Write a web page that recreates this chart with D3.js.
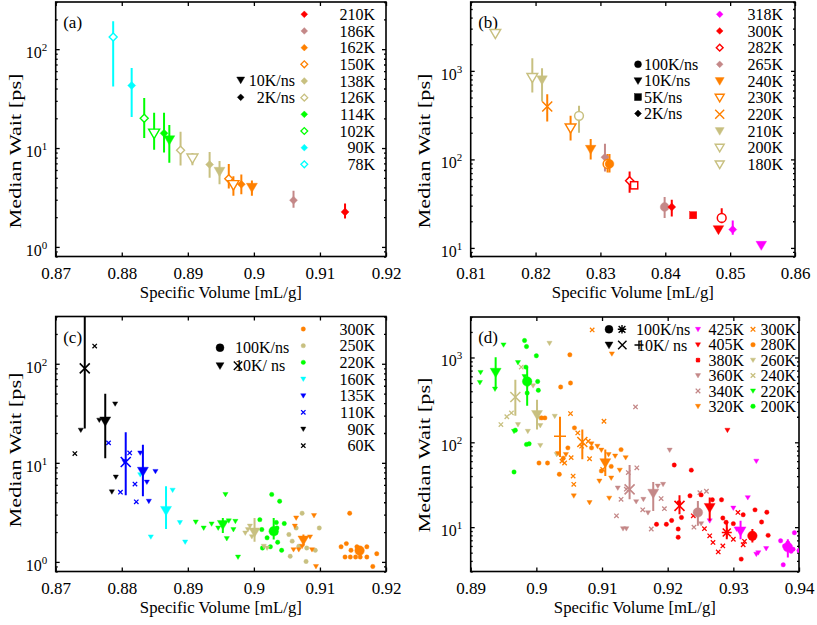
<!DOCTYPE html>
<html><head><meta charset="utf-8">
<script src="https://cdn.jsdelivr.net/npm/d3@7"></script>
<style>
body{margin:0;background:#fff}
svg{display:block}
text{font-family:"Liberation Serif","Times New Roman",serif;fill:#000}
</style>
</head><body>
<svg id="chart" width="817" height="625"></svg>
<script>
// ================= DATA =================
// Panel (a)
const aTemps = ["210K","186K","162K","150K","138K","126K","114K","102K","90K","78K"];
const aRates = ["10K/ns","2K/ns"];
const aXTicks = [0.87,0.88,0.89,0.90,0.91,0.92];
const aXTickLabels = ["0.87","0.88","0.89","0.9","0.91","0.92"];
const aYDecades = [0,1,2];
// [temperature, symbol, x, median, low, high]
const aPoints = [
  ["78K","d",0.8787,133,42,192],
  ["90K","d",0.8815,42.9,20.6,64.4],
  ["102K","d",0.8834,20,12.6,32],
  ["102K","t",0.8849,14.1,9.6,22.8],
  ["114K","d",0.8864,14.1,9.0,22.8],
  ["114K","t",0.8872,12.1,7.1,17.1],
  ["126K","d",0.8889,9.5,6.65,14.6],
  ["126K","t",0.8907,7.9,6.7,8.9],
  ["138K","d",0.8933,6.8,5.0,9.1],
  ["138K","t",0.8948,5.8,4.3,7.4],
  ["150K","d",0.8962,4.9,3.9,6.9],
  ["150K","t",0.8969,4.25,3.3,5.2],
  ["162K","d",0.8981,4.3,3.4,5.4],
  ["162K","t",0.8997,4.0,3.3,4.7],
  ["186K","d",0.9060,2.97,2.49,3.7],
  ["210K","d",0.9138,2.26,1.94,2.75]
];

// Panel (b)
const bTemps = ["318K","300K","282K","265K","240K","230K","220K","210K","200K","180K"];
const bRates = ["100K/ns","10K/ns","5K/ns","2K/ns"];
const bXTicks = [0.81,0.82,0.83,0.84,0.85,0.86];
const bXTickLabels = ["0.81","0.82","0.83","0.84","0.85","0.86"];
const bYDecades = [1,2,3];
const bPoints = [
  ["180K","t",0.8138,2640,null,null],
  ["200K","t",0.8195,840,569,1390],
  ["210K","t",0.8210,792,451,1072],
  ["220K","x",0.8218,396,268,546],
  ["230K","t",0.8254,226,164,311],
  ["200K","c",0.8267,311,200,403],
  ["240K","t",0.8285,130,100,170],
  ["265K","d",0.8307,106,73,150],
  ["230K","c",0.8311,89,71,115],
  ["240K","c",0.8314,89,71,115],
  ["282K","d",0.8345,57.5,42,73],
  ["282K","s",0.8352,51,null,null],
  ["265K","c",0.8399,29,21.8,37.6],
  ["300K","d",0.8410,29,22.7,35],
  ["300K","s",0.8443,23.4,null,null],
  ["282K","c",0.8487,21.8,19,28],
  ["300K","t",0.8482,16.1,null,null],
  ["318K","d",0.8504,16.1,14.1,20.4],
  ["318K","t",0.8548,10.7,null,null]
];

// Panel (c)
const cTemps = ["300K","250K","220K","160K","135K","110K","90K","60K"];
const cRates = ["100K/ns","10K/ns"];
const cXTicks = [0.87,0.88,0.89,0.90,0.91,0.92];
const cXTickLabels = ["0.87","0.88","0.89","0.9","0.91","0.92"];
const cYDecades = [0,1,2];
const cMedians = [
  ["60K","x",0.8744,89.8,22.2,320],
  ["90K","t",0.8775,26.4,11.1,49.8],
  ["110K","x",0.8806,10.2,4.7,20.4],
  ["135K","t",0.8832,8.2,4.6,15.2],
  ["160K","t",0.8867,3.3,2.15,5.8],
  ["220K","t",0.8953,2.38,1.96,2.78],
  ["250K","t",0.9001,2.0,1.6,2.78],
  ["220K","c",0.9030,2.04,1.68,2.78],
  ["300K","t",0.9075,1.66,1.44,1.89],
  ["300K","c",0.9160,1.3,1.2,1.44]
];
const cRuns = [
  ["60K","x",0.8759,151],["60K","x",0.8729,12.4],
  ["90K","t",0.8738,21.4],["90K","t",0.8766,27],["90K","t",0.8790,39.4],["90K","t",0.8791,7.2],["90K","t",0.8785,5.1],
  ["110K","x",0.8780,15.9],["110K","x",0.8812,12.6],["110K","x",0.8798,5.06],["110K","x",0.8820,6.1],["110K","x",0.8822,4.04],
  ["135K","t",0.8804,10.3],["135K","t",0.8828,12.6],["135K","t",0.8838,6.4],["135K","t",0.8841,4.1],["135K","t",0.8851,8.2],
  ["160K","t",0.8828,7.6],["160K","t",0.8844,1.79],["160K","t",0.8877,5.3],["160K","t",0.8888,2.5],["160K","t",0.8896,1.59],
  ["220K","t",0.8912,2.53],["220K","t",0.8924,2.2],["220K","t",0.8936,2.42],["220K","t",0.8946,2.2],["220K","t",0.8957,4.8],
  ["220K","t",0.8959,1.72],["220K","t",0.8962,2.6],["220K","t",0.8972,2.57],["220K","t",0.8976,1.12],["220K","t",0.8969,2.12],
  ["220K","c",0.9009,2.67],["220K","c",0.9012,2.12],["220K","c",0.9020,1.75],["220K","c",0.9027,4.8],["220K","c",0.9039,4.1],
  ["220K","c",0.9034,2.5],["220K","c",0.9035,2.2],["220K","c",0.9033,1.96],["220K","c",0.9036,1.58],["220K","c",0.9042,1.31],
  ["220K","c",0.9046,2.44],["220K","c",0.9025,1.42],["220K","c",0.9013,1.38],
  ["250K","t",0.8987,1.96],["250K","t",0.8991,2.12],["250K","t",0.8994,2.3],["250K","t",0.8997,1.8],["250K","t",0.9015,1.44],["250K","t",0.9020,1.38],
  ["250K","c",0.9053,1.89],["250K","c",0.9064,2.2],["250K","c",0.9073,3.1],["250K","c",0.9055,1.14],["250K","c",0.9058,1.62],
  ["250K","c",0.9080,1.38],["250K","c",0.9093,1.31],["250K","c",0.9099,2.2],["250K","c",0.9079,1.01],["250K","c",0.9068,1.44],
  ["300K","t",0.9064,2.78],["300K","t",0.9062,2.3],["300K","t",0.9073,1.44],["300K","t",0.9085,1.79],["300K","t",0.9091,2.94],
  ["300K","t",0.9088,1.33],["300K","t",0.9094,0.9],["300K","t",0.9068,1.33],["300K","t",0.9060,1.33],
  ["300K","c",0.9145,3.1],["300K","c",0.9132,1.42],["300K","c",0.9140,1.53],["300K","c",0.9147,1.31],["300K","c",0.9156,1.42],
  ["300K","c",0.9171,1.42],["300K","c",0.9138,1.12],["300K","c",0.9146,1.12],["300K","c",0.9154,1.12],["300K","c",0.9161,1.12],
  ["300K","c",0.9171,1.12],["300K","c",0.9186,1.21],["300K","c",0.9180,0.9]
];

// Panel (d)
const dTemps = ["425K","405K","380K","360K","340K","320K","300K","280K","260K","240K","220K","200K"];
const dRates = ["100K/ns","10K/ns"];
const dXTicks = [0.89,0.90,0.91,0.92,0.93,0.94];
const dXTickLabels = ["0.89","0.9","0.91","0.92","0.93","0.94"];
const dYDecades = [1,2,3];
const dMedians = [
  ["220K","t",0.8938,667,425,1009],
  ["200K","c",0.8986,522,270,783],
  ["240K","x",0.8968,342,206,547],
  ["260K","t",0.9001,212,142,318],
  ["320K","p",0.9036,118,67,200],
  ["300K","x",0.9070,101,63,142],
  ["320K","t",0.9105,57.4,40,82],
  ["340K","x",0.9142,27.9,21.3,54],
  ["360K","t",0.9178,25,15.5,34],
  ["380K","x",0.9218,17.8,14.2,23.8],
  ["360K","c",0.9246,14.9,10.4,20.4],
  ["405K","t",0.9264,17,11.9,22.3],
  ["380K","a",0.9290,8.66,7.2,11.3],
  ["425K","t",0.9311,9,7.2,11.9],
  ["405K","c",0.9329,7.9,6.6,9.5],
  ["425K","c",0.9383,5.8,4.4,7.2]
];
const dRuns = [
  ["220K","t",0.8915,667],["220K","t",0.8914,508],["220K","t",0.8937,425],["220K","t",0.8950,1409],["220K","t",0.8972,873],["220K","t",0.8982,598],["220K","t",0.8966,135],
  ["200K","c",0.8982,1585],["200K","c",0.8985,1345],["200K","c",0.9000,1047],["200K","c",0.8984,770],["200K","c",0.9002,522],["200K","c",0.9003,410],
  ["200K","c",0.8986,381],["200K","c",0.8985,94.5],["200K","c",0.8989,96],["200K","c",0.8966,44.7],["200K","c",0.8968,139],
  ["260K","t",0.8972,162],["260K","t",0.8987,135],["260K","t",0.8995,465],["260K","t",0.9005,194],["260K","t",0.9006,158],
  ["260K","t",0.9006,92],["260K","t",0.9020,1472],["260K","t",0.9028,203],["260K","t",0.9031,72],["260K","t",0.8987,477],
  ["240K","x",0.8946,162],["240K","x",0.8955,200],["240K","x",0.8962,222],["240K","x",0.8977,770],
  ["300K","x",0.9085,2114],["300K","x",0.9052,218],["300K","x",0.9039,60],["300K","x",0.9053,66],["300K","x",0.9056,40],
  ["300K","x",0.9057,32],["300K","x",0.9063,129],["300K","x",0.9079,103],["300K","x",0.9103,177],["300K","x",0.9081,64],
  ["300K","x",0.9101,48],["300K","x",0.9043,57],["300K","x",0.9069,90],
  ["280K","c",0.9051,1075],["280K","c",0.9052,500],["280K","c",0.9037,449],["280K","c",0.9058,148],["280K","c",0.9008,194],
  ["280K","c",0.9013,194],["280K","c",0.9004,57],["280K","c",0.9017,57],["280K","c",0.9035,42],["280K","c",0.9041,65],
  ["280K","c",0.9048,86],["280K","c",0.9084,86],["280K","c",0.9099,46],["280K","c",0.9114,52],["280K","c",0.9129,82],
  ["320K","t",0.9115,1104],["320K","t",0.9057,23.4],["320K","t",0.9081,19.5],["320K","t",0.9033,74],["320K","t",0.9045,72],
  ["320K","t",0.9084,96],["320K","t",0.9093,90],["320K","t",0.9099,81],["320K","t",0.9096,35],["320K","t",0.9114,38],
  ["320K","t",0.9120,69],["320K","t",0.9127,47],["320K","t",0.9136,66],["320K","t",0.9110,72],["320K","t",0.9111,22],
  ["340K","x",0.9151,261],["340K","x",0.9122,13.6],["340K","x",0.9129,21.3],["340K","x",0.9140,44],["340K","x",0.9153,50],
  ["340K","x",0.9162,16],["340K","x",0.9175,9.5],["340K","x",0.9137,28],["340K","x",0.9190,21.7],["340K","x",0.9195,16.5],
  ["340K","x",0.9240,10],["340K","x",0.9249,25.5],["340K","x",0.9259,26.5],
  ["360K","t",0.9124,29],["360K","t",0.9132,9.6],["360K","t",0.9137,9.6],["360K","t",0.9152,20],["360K","t",0.9163,21.3],
  ["360K","t",0.9185,30.5],["360K","t",0.9193,32],["360K","t",0.9203,81],["360K","t",0.9170,14.8],["360K","t",0.9251,11],
  ["405K","c",0.9210,54],["405K","c",0.9236,47],["405K","c",0.9217,19.4],["405K","c",0.9221,13],["405K","c",0.9234,23.4],
  ["405K","c",0.9251,24],["405K","c",0.9268,21],["405K","c",0.9282,21],["405K","c",0.9284,12.8],["405K","c",0.9289,11.4],
  ["405K","c",0.9300,11],["405K","c",0.9315,14],["405K","c",0.9333,16],["405K","c",0.9343,11.5],["405K","c",0.9351,15],
  ["405K","c",0.9353,8],["405K","c",0.9312,4.2],["405K","t",0.9291,139],["405K","c",0.9216,9.5],["405K","c",0.9216,7.6],
  ["405K","c",0.9198,10.8],["405K","c",0.9183,10.8],["405K","c",0.9206,12],
  ["380K","x",0.9239,13.6],["380K","x",0.9256,9.6],["380K","x",0.9264,7.9],["380K","x",0.9269,6.6],["380K","x",0.9277,5.1],
  ["380K","x",0.9284,6],["380K","x",0.9300,7.2],["380K","x",0.9307,14.9],["380K","x",0.9315,6.2],["380K","x",0.9317,6.8],
  ["425K","t",0.9335,60],["425K","t",0.9322,22.3],["425K","t",0.9300,16.8],["425K","t",0.9264,11.9],["425K","t",0.9305,9.5],
  ["425K","t",0.9338,5.0],["425K","t",0.9350,5.6],["425K","t",0.9335,4.8],
  ["425K","c",0.9372,6.9],["425K","c",0.9378,6],["425K","c",0.9383,6.5],["425K","c",0.9391,5.5],["425K","c",0.9393,8.6],
  ["425K","c",0.9376,3.6],["425K","c",0.9388,5.2],["425K","c",0.9400,5.3]
];

// ================= STYLES =================
const C = {red:"#ff0000", rosy:"#c48888", orange:"#ff8000", tan:"#c8c080",
           green:"#00ff00", cyan:"#00ffff", blue:"#0000ff", black:"#000000", magenta:"#ff00ff"};
const aColor = {"210K":C.red,"186K":C.rosy,"162K":C.orange,"150K":C.orange,"138K":C.tan,"126K":C.tan,
                "114K":C.green,"102K":C.green,"90K":C.cyan,"78K":C.cyan};
const aOpen = {"150K":1,"126K":1,"102K":1,"78K":1};
const bColor = {"318K":C.magenta,"300K":C.red,"282K":C.red,"265K":C.rosy,"240K":C.orange,"230K":C.orange,
                "220K":C.orange,"210K":C.tan,"200K":C.tan,"180K":C.tan};
const bOpen = {"282K":1,"230K":1,"200K":1,"180K":1};
const bLegSym = {"318K":"d","300K":"d","282K":"d","265K":"d","240K":"t","230K":"t","220K":"x","210K":"t","200K":"t","180K":"t"};
const cColor = {"300K":C.orange,"250K":C.tan,"220K":C.green,"160K":C.cyan,"135K":C.blue,"110K":C.blue,"90K":C.black,"60K":C.black};
const cLegSym = {"300K":"c","250K":"c","220K":"c","160K":"t","135K":"t","110K":"x","90K":"t","60K":"x"};
const dColor = {"425K":C.magenta,"405K":C.red,"380K":C.red,"360K":C.rosy,"340K":C.rosy,"320K":C.orange,
                "300K":C.orange,"280K":C.orange,"260K":C.tan,"240K":C.tan,"220K":C.green,"200K":C.green};
const dLegSym = {"425K":"t","405K":"t","380K":"a","360K":"t","340K":"x","320K":"t",
                 "300K":"x","280K":"c","260K":"t","240K":"x","220K":"t","200K":"c"};

const L = {
  a:{left:55.7,right:386,top:2,bottom:256.5,x0:0.87,x1:0.92,y0:0.8,y1:300,lab:"(a)",ylabY:151,ylabX:15},
  b:{left:470.7,right:795,top:2,bottom:256.5,x0:0.81,x1:0.86,y0:8,y1:6000,lab:"(b)",ylabY:151,ylabX:424},
  c:{left:55.7,right:386,top:316.5,bottom:571.5,x0:0.87,x1:0.92,y0:0.8,y1:300,lab:"(c)",ylabY:450,ylabX:15},
  d:{left:470.7,right:799,top:317,bottom:571.5,x0:0.89,x1:0.94,y0:3,y1:3000,lab:"(d)",ylabY:455,ylabX:424}
};

const svg = d3.select("#chart");

function drawSym(g, t, cx, cy, s, color, open, sw) {
  sw = sw || 1.3;
  let el;
  if (t === "d") el = g.append("path").attr("d",`M${cx},${cy-s}L${cx+s},${cy}L${cx},${cy+s}L${cx-s},${cy}Z`);
  else if (t === "t") el = g.append("path").attr("d",`M${cx-s},${cy-s*0.75}L${cx+s},${cy-s*0.75}L${cx},${cy+s*0.95}Z`);
  else if (t === "c") el = g.append("circle").attr("cx",cx).attr("cy",cy).attr("r",s);
  else if (t === "s") el = g.append("rect").attr("x",cx-s).attr("y",cy-s).attr("width",2*s).attr("height",2*s);
  else {
    let d = "";
    if (t === "x" || t === "a") { const k = t==="a"? s*0.8 : s; d += `M${cx-k},${cy-k}L${cx+k},${cy+k}M${cx-k},${cy+k}L${cx+k},${cy-k}`; }
    if (t === "p" || t === "a") d += `M${cx-s},${cy}L${cx+s},${cy}M${cx},${cy-s}L${cx},${cy+s}`;
    return g.append("path").attr("d",d).attr("fill","none").attr("stroke",color).attr("stroke-width",sw);
  }
  if (open) el.attr("fill","#fff").attr("stroke",color).attr("stroke-width",sw);
  else el.attr("fill",color).attr("stroke",color).attr("stroke-width",0.4);
  return el;
}

function makePanel(k, xTicks, xTickLabels, yDecades) {
  const P = L[k];
  const x = d3.scaleLinear().domain([P.x0,P.x1]).range([P.left,P.right]);
  const y = d3.scaleLog().domain([P.y0,P.y1]).range([P.bottom,P.top]);
  const g = svg.append("g");
  svg.append("clipPath").attr("id","clip"+k).append("rect")
    .attr("x",P.left).attr("y",P.top).attr("width",P.right-P.left).attr("height",P.bottom-P.top);
  // minor log ticks
  const minor = [];
  for (let e = Math.floor(Math.log10(P.y0)); e <= Math.ceil(Math.log10(P.y1)); e++)
    for (let m = 2; m <= 9; m++) { const v = m*Math.pow(10,e); if (v>=P.y0 && v<=P.y1) minor.push(v); }
  const major = yDecades.map(e=>Math.pow(10,e));
  const axG = g.append("g").attr("class","axes");
  axG.append("g").attr("transform",`translate(0,${P.bottom})`)
    .call(d3.axisBottom(x).tickValues(xTicks).tickFormat((d,i)=>xTickLabels[i]).tickSizeInner(-4).tickSizeOuter(0).tickPadding(10.5))
    .call(s=>{s.select(".domain").remove(); s.selectAll("text").attr("font-size",17).attr("font-family","Liberation Serif");});
  axG.append("g").attr("transform",`translate(0,${P.top})`)
    .call(d3.axisTop(x).tickValues(xTicks).tickFormat("").tickSizeInner(-4).tickSizeOuter(0))
    .call(s=>s.select(".domain").remove());
  [["L",P.left],["R",P.right]].forEach(([side,pos])=>{
    const axMaj = side==="L" ? d3.axisLeft(y) : d3.axisRight(y);
    const axMin = side==="L" ? d3.axisLeft(y) : d3.axisRight(y);
    axG.append("g").attr("transform",`translate(${pos},0)`)
      .call(axMaj.tickValues(major).tickFormat("").tickSizeInner(-4).tickSizeOuter(0))
      .call(s=>s.select(".domain").remove());
    axG.append("g").attr("transform",`translate(${pos},0)`)
      .call(axMin.tickValues(minor).tickFormat("").tickSizeInner(-2).tickSizeOuter(0))
      .call(s=>s.select(".domain").remove());
  });
  axG.selectAll(".tick line").attr("stroke","#000").attr("stroke-width",1.3);
  // y tick labels 10^n
  yDecades.forEach(e=>{
    const t = g.append("text").attr("x",P.left-8.5).attr("y",y(Math.pow(10,e))+9)
      .attr("text-anchor","end").attr("font-size",16);
    t.append("tspan").text("10");
    t.append("tspan").attr("dy",-7).attr("font-size",11).text(String(e));
  });
  // border
  g.append("rect").attr("x",P.left).attr("y",P.top).attr("width",P.right-P.left).attr("height",P.bottom-P.top)
    .attr("fill","none").attr("stroke","#000").attr("stroke-width",1.6);
  // axis labels
  const cx = (P.left+P.right)/2;
  g.append("text").attr("x",cx).attr("y",P.bottom+41.5).attr("text-anchor","middle").attr("font-size",17)
    .attr("textLength",162).attr("lengthAdjust","spacingAndGlyphs").text("Specific Volume [mL/g]");
  g.append("text").attr("transform",`translate(${P.ylabX+5.5},${P.ylabY}) rotate(-90)`).attr("text-anchor","middle")
    .attr("font-size",17).attr("textLength",155).attr("lengthAdjust","spacingAndGlyphs").text("Median Wait [ps]");
  g.append("text").attr("x",P.left+7.5).attr("y",P.top+26).attr("font-size",17).text(P.lab);
  const plot = g.append("g").attr("clip-path",`url(#clip${k})`);
  return {x,y,g,plot,P};
}

function errBar(plot, x, y, p, color, w) {
  if (p[4]==null) return;
  plot.append("line").attr("x1",x(p[2])).attr("x2",x(p[2])).attr("y1",y(p[4])).attr("y2",y(p[5]))
    .attr("stroke",color).attr("stroke-width",w);
}

// ---------- Panel (a) ----------
(function(){
  const {x,y,g,plot} = makePanel("a", aXTicks, aXTickLabels, aYDecades);
  aPoints.forEach(p=>errBar(plot,x,y,p,aColor[p[0]],2));
  aPoints.forEach(p=>drawSym(plot,p[1],x(p[2]),y(p[3]),p[1]==="t"?5.5:4,aColor[p[0]],aOpen[p[0]],1.4));
  aTemps.forEach((t,i)=>{
    const yy = 14.3 + i*16.67;
    drawSym(g,"d",304.3,yy,3.4,aColor[t],aOpen[t],1.3);
    g.append("text").attr("x",375).attr("y",yy+5.6).attr("text-anchor","end").attr("font-size",16).text(t);
  });
  const rs = ["t","d"];
  aRates.forEach((r,i)=>{
    const yy = 80 + i*17.3;
    drawSym(g,rs[i],240.7,yy,rs[i]==="t"?4:3.4,"#000",false);
    g.append("text").attr("x",295).attr("y",yy+5.6).attr("text-anchor","end").attr("font-size",16).text(r);
  });
})();

// ---------- Panel (b) ----------
(function(){
  const {x,y,g,plot} = makePanel("b", bXTicks, bXTickLabels, bYDecades);
  const size = {t:5.3,d:4,c:4.4,s:3.6,x:5};
  bPoints.forEach(p=>errBar(plot,x,y,p,bColor[p[0]],2));
  bPoints.forEach(p=>drawSym(plot,p[1],x(p[2]),y(p[3]),size[p[1]],bColor[p[0]],bOpen[p[0]],1.5));
  bTemps.forEach((t,i)=>{
    const yy = 14.3 + i*16.67;
    const s = bLegSym[t];
    drawSym(g,s,719.7,yy,s==="t"?4.5:(s==="x"?4.5:3.4),bColor[t],bOpen[t],1.4);
    g.append("text").attr("x",783).attr("y",yy+5.6).attr("text-anchor","end").attr("font-size",16).text(t);
  });
  const rs = ["c","t","s","d"];
  bRates.forEach((r,i)=>{
    const yy = 64.3 + i*16.4;
    drawSym(g,rs[i],638,yy,rs[i]==="t"?4:3.5,"#000",false);
    g.append("text").attr("x",644).attr("y",yy+5.6).attr("font-size",16).text(r);
  });
})();

// ---------- Panel (c) ----------
(function(){
  const {x,y,g,plot} = makePanel("c", cXTicks, cXTickLabels, cYDecades);
  const small = {t:2.6,c:2.2,x:2.2};
  cRuns.forEach(p=>drawSym(plot,p[1],x(p[2]),y(p[3]),small[p[1]],cColor[p[0]],false,1.3));
  const big = {t:5.5,c:4.8,x:5};
  cMedians.forEach(p=>errBar(plot,x,y,p,cColor[p[0]],2));
  cMedians.forEach(p=>drawSym(plot,p[1],x(p[2]),y(p[3]),big[p[1]],cColor[p[0]],false,1.6));
  cTemps.forEach((t,i)=>{
    const yy = 329 + i*16.67;
    const s = cLegSym[t];
    drawSym(g,s,303.3,yy,s==="t"?2.6:2.2,cColor[t],false,1.3);
    g.append("text").attr("x",375).attr("y",yy+5.6).attr("text-anchor","end").attr("font-size",16).text(t);
  });
  // rate legend
  drawSym(g,"c",220,347.7,4,"#000",false);
  g.append("text").attr("x",235).attr("y",347.7+5.6).attr("font-size",16).text(cRates[0]);
  drawSym(g,"t",220,365.7,4,"#000",false);
  g.append("text").attr("x",235).attr("y",365.7+5.6).attr("font-size",16).text(cRates[1].replace("/","/ "));
  drawSym(g,"x",238,365.7,4.2,"#000",false,1.4);
})();

// ---------- Panel (d) ----------
(function(){
  const {x,y,g,plot} = makePanel("d", dXTicks, dXTickLabels, dYDecades);
  const small = {t:2.6,c:2.2,x:2.2,a:2.4};
  dRuns.forEach(p=>drawSym(plot,p[1],x(p[2]),y(p[3]),small[p[1]],dColor[p[0]],false,1.3));
  const big = {t:5.5,c:4.8,x:5,p:6,a:5};
  dMedians.forEach(p=>errBar(plot,x,y,p,dColor[p[0]],2));
  dMedians.forEach(p=>drawSym(plot,p[1],x(p[2]),y(p[3]),big[p[1]],dColor[p[0]],false,1.6));
  dTemps.forEach((t,i)=>{
    const col = Math.floor(i/6), row = i%6;
    const yy = 329.3 + row*15.4;
    const mx = col===0 ? 698 : 753;
    const tx = col===0 ? 744 : 796;
    const s = dLegSym[t];
    drawSym(g,s,mx,yy,s==="t"?2.6:2.3,dColor[t],false,1.3);
    g.append("text").attr("x",tx).attr("y",yy+5.6).attr("text-anchor","end").attr("font-size",16).text(t);
  });
  drawSym(g,"c",609,329.3,4,"#000",false);
  drawSym(g,"a",622,329.3,4.2,"#000",false,1.4);
  g.append("text").attr("x",636).attr("y",329.3+5.6).attr("font-size",16).text(dRates[0]);
  drawSym(g,"t",609,345,4,"#000",false);
  drawSym(g,"x",622.3,345,4.2,"#000",false,1.4);
  g.append("text").attr("x",637).attr("y",345+5.6).attr("font-size",16).text(dRates[1].replace("/","/ "));
  drawSym(g,"p",639,345,4.5,"#000",false,1.4);
})();
</script>
</body></html>
